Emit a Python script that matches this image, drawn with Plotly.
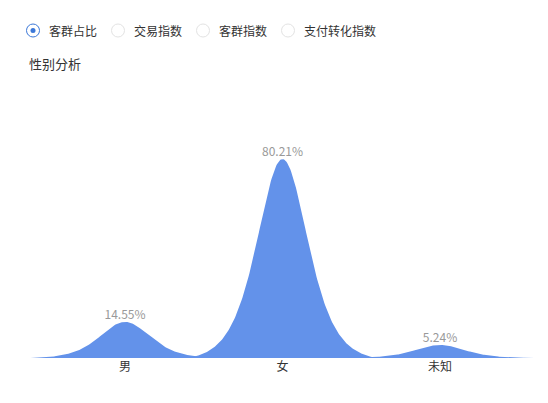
import numpy as np
import plotly.graph_objects as go

# data
categories = ["男", "女", "未知"]
values = [14.55, 80.21, 5.24]
value_labels = ["14.55%", "80.21%", "5.24%"]
tabs = ["客群占比", "交易指数", "客群指数", "支付转化指数"]
title_text = "性别分析"

FONT = "Microsoft YaHei, Noto Sans CJK SC, sans-serif"
BLUE = "#6392ea"

# page has an 8px body margin, so the figure is drawn 8px smaller/shifted
OFF = 8
W, H = 548 - OFF, 403 - OFF

# bell shape for each category (peak height = value)
half_w = 0.6
w = 0.215
t = np.linspace(-half_w, half_w, 241)
edge = 1 / np.cosh(half_w / w) ** 2
bell = (1 / np.cosh(t / w) ** 2 - edge) / (1 - edge)

fig = go.Figure()
for i, (cat, v) in enumerate(zip(categories, values)):
    fig.add_trace(go.Scatter(
        x=i + t, y=v * bell, mode="lines", fill="tozeroy",
        line=dict(color=BLUE, width=0), fillcolor=BLUE,
        hoverinfo="skip", showlegend=False,
    ))

# value labels on top of the peaks
fig.add_trace(go.Scatter(
    x=list(range(len(categories))), y=values, mode="text",
    text=value_labels, textposition="top center",
    textfont=dict(color="#999999", size=12, family=FONT),
    showlegend=False, hoverinfo="skip",
))

px_per_cat = 157.5
x0 = 125 - OFF
fig.update_xaxes(
    range=[-x0 / px_per_cat, (W - x0) / px_per_cat],
    tickvals=list(range(len(categories))), ticktext=categories,
    showgrid=False, zeroline=False, showline=False, ticks="",
    tickfont=dict(color="#333333", size=12, family=FONT),
    fixedrange=True,
)
fig.update_yaxes(range=[0, 104], visible=False, fixedrange=True)

top, base = 100 - OFF, 358 - OFF


def px(x):
    return (x - OFF) / W


def py(y):
    return (base - (y - OFF)) / (base - top)


# radio tabs
tab_x = [33, 118, 203, 288]
tab_y = 30.5
for k, (name, cx) in enumerate(zip(tabs, tab_x)):
    sel = k == 0
    fig.add_shape(type="circle", xref="paper", yref="paper",
                  x0=px(cx - 6.5), x1=px(cx + 6.5),
                  y0=py(tab_y + 6.5), y1=py(tab_y - 6.5), layer="above",
                  line=dict(color="#3c78d8" if sel else "#e3e3e3", width=1),
                  fillcolor="white")
    fig.add_annotation(xref="paper", yref="paper", x=px(cx + 14),
                       y=py(tab_y), xanchor="left", yanchor="middle", showarrow=False,
                       text=name, font=dict(color="#333333", size=12, family=FONT))
fig.add_shape(type="circle", xref="paper", yref="paper",
              x0=px(33 - 2.5), x1=px(33 + 2.5),
              y0=py(tab_y + 2.5), y1=py(tab_y - 2.5), fillcolor="#3c78d8",
              line=dict(width=0), layer="above")
fig.add_annotation(xref="paper", yref="paper", x=px(27), y=py(64),
                   xanchor="left", yanchor="middle", showarrow=False,
                   text=title_text, font=dict(color="#333333", size=13, family=FONT))

fig.update_layout(
    width=W, height=H,
    margin=dict(l=0, r=0, t=top, b=H - base),
    plot_bgcolor="white", paper_bgcolor="white",
)

fig.write_html("out.html")
